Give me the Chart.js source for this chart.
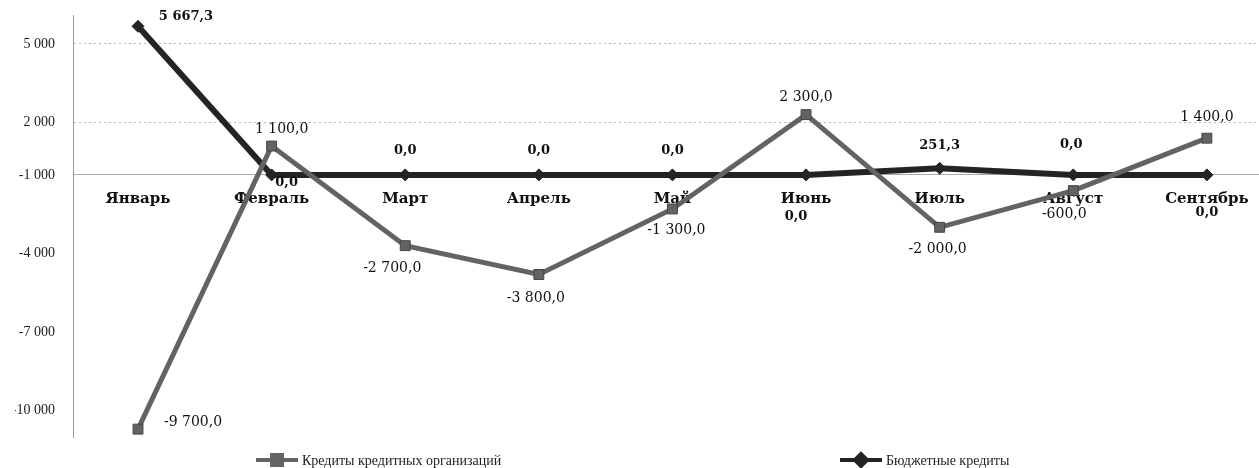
<!DOCTYPE html>
<html>
<head>
<meta charset="utf-8">
<script src="https://cdn.jsdelivr.net/npm/chart.js@4.4.1/dist/chart.umd.min.js"></script>
<style>
  html, body { margin: 0; padding: 0; background: #fff; }
  #wrap { width: 1259px; height: 468px; }
</style>
</head>
<body>
<div id="wrap"><canvas id="chart"></canvas></div>
<script>
// Data
const months = ['Январь', 'Февраль', 'Март', 'Апрель', 'Май', 'Июнь', 'Июль', 'Август', 'Сентябрь'];
const creditValues = [-9700, 1100, -2700, -3800, -1300, 2300, -2000, -600, 1400];
const budgetValues = [5667.3, 0, 0, 0, 0, 0, 251.3, 0, 0];
const seriesNames = ['Кредиты кредитных организаций', 'Бюджетные кредиты'];
const yTickValues = [5000, 2000, 0, -3000, -6000, -9000];
const yTickLabels = ['5 000', '2 000', '-1 000', '-4 000', '-7 000', '-10 000'];

// label placement (offset of the text centre from the point)
const creditLabelOffsets = [[55, -7], [10, -17], [-13, 23], [-3, 24], [4, 21], [0, -17], [-2, 22], [-9, 24], [0, -21]];
const budgetLabelOffsets = [[48, -10], [15, 8], [0, -24], [0, -24], [0, -24], [-10, 42], [0, -23], [-2, -30], [0, 38]];

const creditColor = '#636363';
const budgetColor = '#242424';

function formatRu(v) {
    const parts = Math.abs(v).toFixed(1).split('.');
    const whole = parts[0].replace(/\B(?=(\d{3})+(?!\d))/g, ' ');
    return (v < 0 ? '-' : '') + whole + ',' + parts[1];
}

const toPoints = values => values.map((v, i) => ({ x: i, y: v }));

// draws value labels next to each point
const pointLabels = {
    id: 'pointLabels',
    afterDatasetsDraw(chart) {
        const ctx = chart.ctx;
        chart.data.datasets.forEach((ds, di) => {
            const meta = chart.getDatasetMeta(di);
            meta.data.forEach((pt, i) => {
                const off = ds.labelOffsets[i];
                ctx.save();
                ctx.font = ds.labelFont;
                ctx.fillStyle = '#111';
                ctx.textAlign = 'center';
                ctx.textBaseline = 'middle';
                ctx.fillText(formatRu(ds.data[i].y), pt.x + off[0], pt.y + off[1]);
                ctx.restore();
            });
        });
    }
};

// legend: line with marker, items spread wide apart
const wideLegend = {
    id: 'wideLegend',
    afterDraw(chart) {
        const ctx = chart.ctx;
        const starts = [256, 840];
        const y = 460;
        chart.data.datasets.forEach((ds, di) => {
            const x = starts[di];
            ctx.save();
            ctx.strokeStyle = ds.borderColor;
            ctx.lineWidth = 4;
            ctx.beginPath();
            ctx.moveTo(x, y);
            ctx.lineTo(x + 42, y);
            ctx.stroke();
            Chart.helpers.drawPoint(ctx, {
                pointStyle: ds.pointStyle,
                radius: ds.pointRadius,
                borderWidth: 1,
                rotation: 0
            }, x + 21, y);
            ctx.fillStyle = ds.borderColor;
            ctx.fill();
            ctx.fillStyle = '#222';
            ctx.font = '14px "Liberation Serif", serif';
            ctx.textAlign = 'left';
            ctx.textBaseline = 'middle';
            ctx.fillText(ds.label, x + 46, y + 1);
            ctx.restore();
        });
    }
};

new Chart(document.getElementById('chart'), {
    type: 'line',
    data: {
        datasets: [{
            label: seriesNames[0],
            data: toPoints(creditValues),
            borderColor: creditColor,
            backgroundColor: creditColor,
            borderWidth: 5,
            pointStyle: 'rect',
            pointRadius: 7,
            pointBorderWidth: 1,
            pointBorderColor: '#444',
            pointBackgroundColor: creditColor,
            tension: 0,
            clip: false,
            labelOffsets: creditLabelOffsets,
            labelFont: '14px "DejaVu Serif", serif'
        }, {
            label: seriesNames[1],
            data: toPoints(budgetValues),
            borderColor: budgetColor,
            backgroundColor: budgetColor,
            borderWidth: 6,
            pointStyle: 'rectRot',
            pointRadius: 6,
            pointBorderWidth: 1,
            pointBorderColor: budgetColor,
            pointBackgroundColor: budgetColor,
            tension: 0,
            clip: false,
            labelOffsets: budgetLabelOffsets,
            labelFont: 'bold 13px "DejaVu Serif", serif'
        }]
    },
    options: {
        responsive: true,
        maintainAspectRatio: false,
        animation: false,
        layout: {
            autoPadding: false,
            padding: { top: 15, bottom: 31, left: 15, right: 0 }
        },
        plugins: {
            legend: { display: false },
            tooltip: { enabled: false }
        },
        scales: {
            x: {
                type: 'linear',
                position: { y: 0 },
                min: -0.4865,
                max: 8.39,
                afterBuildTicks: axis => {
                    axis.ticks = months.map((m, i) => ({ value: i }));
                },
                afterFit: axis => {
                    axis.paddingTop = 0;
                    axis.paddingBottom = 0;
                    axis.paddingLeft = 0;
                    axis.paddingRight = 0;
                },
                grid: { display: false, drawTicks: false },
                border: { display: true, color: '#aaa', width: 1, dash: [2, 3] },
                ticks: {
                    autoSkip: false,
                    maxRotation: 0,
                    padding: 15,
                    color: '#111',
                    font: { family: '"DejaVu Serif", serif', size: 15, weight: 'bold' },
                    callback: value => months[value]
                }
            },
            y: {
                min: -10000,
                max: 6100,
                afterBuildTicks: axis => {
                    axis.ticks = yTickValues.map(v => ({ value: v }));
                },
                afterFit: axis => {
                    axis.width = 58;
                    axis.paddingTop = 0;
                    axis.paddingBottom = 0;
                },
                grid: {
                    drawTicks: false,
                    color: ctx => (ctx.tick && ctx.tick.value >= 0) ? '#b5b5b5' : 'rgba(0,0,0,0)'
                },
                border: { display: true, color: '#999', width: 1, dash: [2, 3] },
                ticks: {
                    padding: 18,
                    color: '#222',
                    font: { family: '"Liberation Serif", serif', size: 14 },
                    callback: (value, index) => yTickLabels[index]
                }
            }
        }
    },
    plugins: [pointLabels, wideLegend]
});
</script>
</body>
</html>
